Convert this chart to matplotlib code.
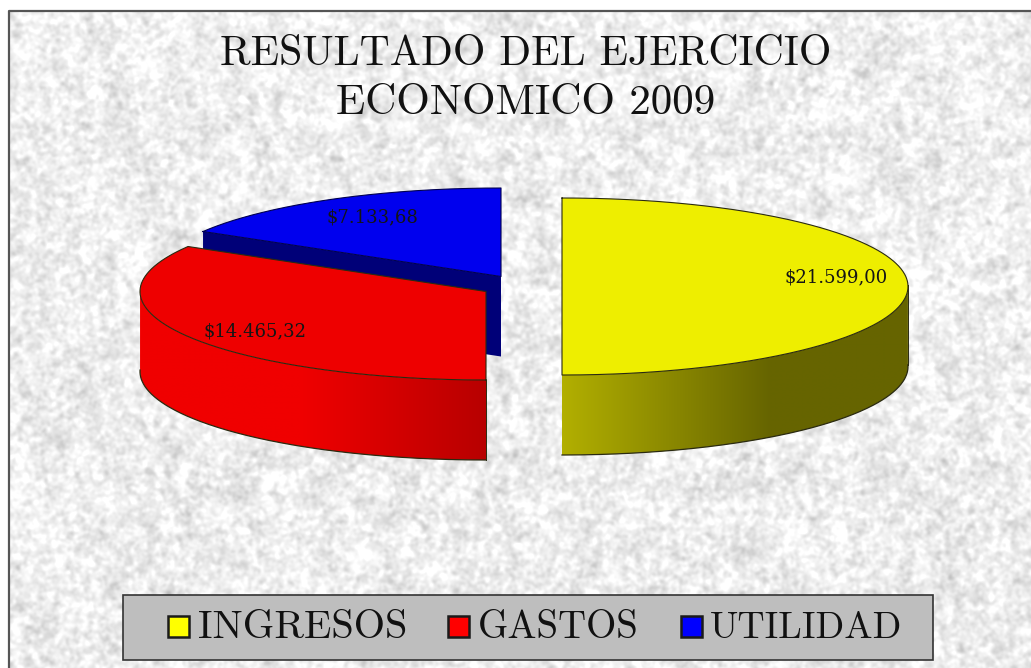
import numpy as np
import matplotlib
matplotlib.use("Agg")
import matplotlib.pyplot as plt
from matplotlib.patches import Rectangle, Polygon

# ---- data ----
categories = ["INGRESOS", "GASTOS", "UTILIDAD"]
values = [21599.00, 14465.32, 7133.68]
value_labels = ["$21.599,00", "$14.465,32", "$7.133,68"]
title_lines = ["RESULTADO DEL EJERCICIO", "ECONOMICO 2009"]

# ---- style / layout ----
W, H = 1031, 668
RX, RY, DEPTH = 346.0, 88.5, 80.0
centers = [(562, 286.5), (486, 291.5), (501, 276.5)]
top_colors = ["#eeee00", "#ee0000", "#0000ee"]
swatch_colors = ["#ffff00", "#ff0000", "#0000ff"]
dark_wall = "#000078"
edge = "#2a2a10"
label_pos = [(836, 277), (255, 331), (372, 217)]
swatch_x = [168, 448, 681]
legend_text_x = [198, 478, 710]
legend_sizes = [29, 28, 27.2]

fig = plt.figure(figsize=(W / 100, H / 100), dpi=100, facecolor="white")
ax = fig.add_axes([0, 0, 1, 1])
ax.axis("off")


def background(h, w):
    yy, xx = np.mgrid[0:h, 0:w]
    s = np.sin(xx * 12.9898 + yy * 78.233) * 43758.5453
    n = s - np.floor(s)
    fy = np.fft.fftfreq(h)[:, None]
    fx = np.fft.rfftfreq(w)[None, :]
    F = np.fft.rfft2(n - n.mean())
    out = 0
    for sigma, amp in [(1.5, 1.0), (3.0, 0.6), (9.0, 0.25)]:
        g = np.exp(-2 * (np.pi * sigma) ** 2 * (fx ** 2 + fy ** 2))
        b = np.fft.irfft2(F * g, s=(h, w))
        out = out + amp * b / b.std()
    return np.clip(238 + 6.5 * out, 185, 255) / 255


ax.imshow(background(H - 11, W - 9), cmap="gray", vmin=0, vmax=1,
          extent=(9, W, H, 11), aspect="auto", zorder=0, interpolation="bilinear")
ax.plot([9, 9, W], [H, 11, 11], color="#555555", lw=1.6, zorder=1)


def pt(c, th):
    return c[0] + RX * np.sin(th), c[1] - RY * np.cos(th)


def wall_color(i, x):
    if i == 0:
        t = np.clip((x - 562) / (770 - 562), 0, 1)
        v = (0xb2 + (0x66 - 0xb2) * t) / 255
        return (v, v * 0.985, 0)
    t = np.clip((x - 300) / (486 - 300), 0, 1)
    return ((0xf0 + (0xb8 - 0xf0) * t) / 255, 0, 0)


total = sum(values)
starts = [0.0]
for v in values[:-1]:
    starts.append(starts[-1] + v / total * 2 * np.pi)
spans = [v / total * 2 * np.pi for v in values]

for i in [2, 1, 0]:
    c = centers[i]
    th = np.linspace(starts[i], starts[i] + spans[i], 400)
    x, y = pt(c, th)
    z = 2 + (2 - i) * 2 if i != 0 else 6
    if i == 2:
        # blue: flat navy cut faces, seen below the top
        ax.fill([c[0], c[0], x[0], x[0]], [c[1], c[1] + DEPTH, y[0] + DEPTH, y[0]],
                color=dark_wall, zorder=z, lw=0)
    else:
        # curved outer wall: a horizontal colour ramp clipped to the wall's outline
        front = np.cos(th) <= 0.02
        fx, fy = x[front], y[front]
        outline = np.c_[np.r_[fx, fx[::-1]], np.r_[fy, fy[::-1] + DEPTH]]
        xs = np.arange(np.floor(fx.min()), np.ceil(fx.max()) + 1)
        ramp = np.array([[wall_color(i, v) for v in xs]])
        im = ax.imshow(ramp, extent=(xs[0], xs[-1], fy.max() + DEPTH + 1, fy.min() - 1),
                       aspect="auto", zorder=z, interpolation="bilinear")
        im.set_clip_path(Polygon(outline, closed=True, transform=ax.transData))
        ax.plot(fx, fy + DEPTH, color=edge, lw=0.9, zorder=z + 0.5)
        ax.plot([fx[0], fx[0]], [fy[0], fy[0] + DEPTH], color=edge, lw=0.7, zorder=z + 0.5)
    ax.fill(np.r_[c[0], x], np.r_[c[1], y], color=top_colors[i], zorder=z + 1, lw=0)
    ax.plot(np.r_[x, c[0], x[0]], np.r_[y, c[1], y[0]], solid_joinstyle="round",
            color=edge if i != 2 else "#000050", lw=0.8, zorder=z + 1.2)
    ax.text(*label_pos[i], value_labels[i], family="DejaVu Serif", fontsize=13,
            color="#151515", ha="center", va="center", parse_math=False, zorder=20)

# ---- title ----
ax.text(526, 54, title_lines[0], family="cmr10", fontsize=30, ha="center",
        va="center", color="#111111", zorder=20)
ax.text(526, 103, title_lines[1], family="cmr10", fontsize=31, ha="center",
        va="center", color="#111111", zorder=20)

# ---- legend ----
ax.add_patch(Rectangle((122.5, 594.5), 810, 65, fc="#bebebe", ec="#333333", lw=1.2, zorder=15))
for i, name in enumerate(categories):
    ax.add_patch(Rectangle((swatch_x[i], 616), 21, 21, fc=swatch_colors[i],
                           ec="#1a1a1a", lw=1.8, zorder=16))
    ax.text(legend_text_x[i], 628, name, family="cmr10", fontsize=legend_sizes[i], ha="left",
            va="center", color="#111111", zorder=16)

ax.set_xlim(0, W)
ax.set_ylim(H, 0)
fig.savefig("out.png", dpi=100, facecolor="white")
